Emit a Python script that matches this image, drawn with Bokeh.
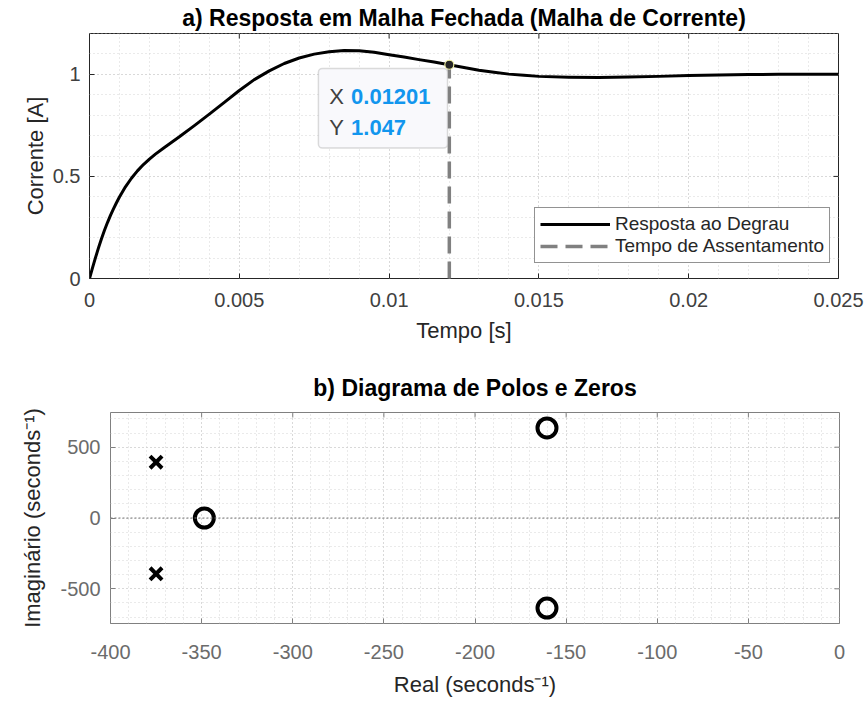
from bokeh.plotting import figure
from bokeh.models import (FixedTicker, Range1d, BoxAnnotation, Label,
                          Legend, LegendItem, Span)
from bokeh.embed import file_html
from bokeh.resources import INLINE

FONT = "Liberation Sans"

# ---------------- data: a) closed-loop step response ----------------
t_s = [0, 0.0001, 0.0002, 0.0003, 0.0004, 0.0005, 0.0006, 0.0007, 0.0008, 0.0009,
       0.001, 0.0012, 0.0014, 0.0016, 0.0018, 0.002, 0.0022, 0.0025,
       0.003, 0.0035, 0.004, 0.0045, 0.005, 0.0055, 0.006, 0.0065, 0.007,
       0.0075, 0.008, 0.0085, 0.009, 0.0095, 0.01, 0.0105, 0.011, 0.0115, 0.012,
       0.0125, 0.013, 0.0135, 0.014, 0.0145, 0.015, 0.016, 0.017, 0.018, 0.019,
       0.02, 0.021, 0.022, 0.023, 0.024, 0.025]
i_A = [0, 0.052, 0.102, 0.150, 0.195, 0.236, 0.274, 0.309, 0.341, 0.371,
       0.399, 0.449, 0.491, 0.527, 0.558, 0.585, 0.609, 0.642,
       0.694, 0.749, 0.805, 0.863, 0.921, 0.974, 1.017, 1.053, 1.080,
       1.099, 1.111, 1.117, 1.116, 1.108, 1.096, 1.085, 1.072, 1.06, 1.047,
       1.033, 1.02, 1.01, 1.001, 0.995, 0.99, 0.986, 0.985, 0.987, 0.99,
       0.994, 0.997, 0.999, 1.0, 1.0, 1.0]
settling_time = 0.01201
settling_value = 1.047

xticks_a = [0, 0.005, 0.01, 0.015, 0.02, 0.025]
xlabels_a = ["0", "0.005", "0.01", "0.015", "0.02", "0.025"]
yticks_a = [0, 0.5, 1]
ylabels_a = ["0", "0.5", "1"]

# ---------------- data: b) pole-zero map ----------------
poles_re = [-375, -375]
poles_im = [394, -394]
zeros_re = [-348.5, -160.5, -160.5]
zeros_im = [0, 636, -636]

xticks_b = [-400, -350, -300, -250, -200, -150, -100, -50, 0]
xlabels_b = ["-400", "-350", "-300", "-250", "-200", "-150", "-100", "-50", "0"]
yticks_b = [-500, 0, 500]
ylabels_b = ["-500", "0", "500"]


def style_axes(p, xt, xl, yt, yl, xminor, yminor, tick_color, frame_color,
               xr, yr, fw, fh):
    xtk = FixedTicker(ticks=xt, minor_ticks=xminor)
    ytk = FixedTicker(ticks=yt, minor_ticks=yminor)
    p.xaxis.ticker = xtk
    p.yaxis.ticker = ytk
    p.xaxis.major_label_overrides = {v: s for v, s in zip(xt, xl)}
    p.yaxis.major_label_overrides = {v: s for v, s in zip(yt, yl)}
    for ax in (p.xaxis[0], p.yaxis[0]):
        ax.major_label_text_font = FONT
        ax.major_label_text_font_size = "20px"
        ax.major_label_text_color = tick_color
        ax.axis_label_text_font = FONT
        ax.axis_label_text_font_size = "22px"
        ax.axis_label_text_font_style = "normal"
        ax.axis_label_text_color = "#262626"
        ax.axis_line_color = None
        ax.major_tick_in = 5
        ax.major_tick_out = 0
        ax.major_tick_line_color = frame_color
        ax.minor_tick_in = 0
        ax.minor_tick_out = 0
    # mirrored inward ticks on the top and right frame edges
    tx = 5 * (xr[1] - xr[0]) / fw
    ty = 5 * (yr[1] - yr[0]) / fh
    p.segment(x0=xt, y0=[yr[1]] * len(xt), x1=xt, y1=[yr[1] - ty] * len(xt),
              line_color=frame_color, line_width=1)
    p.segment(x0=[xr[1]] * len(yt), y0=yt, x1=[xr[1] - tx] * len(yt), y1=yt,
              line_color=frame_color, line_width=1)
    for g in (p.xgrid[0], p.ygrid[0]):
        g.grid_line_color = "#c8c8c8"
        g.grid_line_dash = "1 3"
        g.grid_line_width = 1
        g.minor_grid_line_color = "#d4d4d4"
        g.minor_grid_line_dash = "1 3"
        g.minor_grid_line_width = 1
    p.outline_line_color = frame_color
    p.outline_line_width = 1
    p.background_fill_color = "white"
    p.border_fill_color = "white"
    p.title.text_font = FONT
    p.title.text_font_size = "23px"
    p.title.text_font_style = "bold"
    p.title.text_color = "black"
    p.title.align = "center"


# ---------------- figure a ----------------
xr_a, yr_a = (0, 0.025), (0, 1.2)
p1 = figure(frame_width=749, frame_height=245,
            x_range=Range1d(*xr_a), y_range=Range1d(*yr_a),
            min_border_left=89, min_border_right=28, min_border_top=33,
            min_border_bottom=72, output_backend="svg", toolbar_location=None,
            title="a) Resposta em Malha Fechada (Malha de Corrente)",
            x_axis_label="Tempo [s]", y_axis_label="Corrente [A]")
style_axes(p1, xticks_a, xlabels_a, yticks_a, ylabels_a,
           [k * 0.001 for k in range(26)], [k * 0.1 for k in range(13)],
           "#404040", "#262626", xr_a, yr_a, 749, 245)
p1.title.standoff = 5
p1.xaxis[0].major_label_standoff = 14
p1.xaxis[0].axis_label_standoff = 8
p1.yaxis[0].major_label_standoff = 9
p1.yaxis[0].axis_label_standoff = 2

r_step = p1.line(t_s, i_A, line_color="black", line_width=3, line_join="round")

tip_box = BoxAnnotation(left=0.00764, right=0.01195, bottom=0.639, top=1.029,
                        fill_color="#f9f9fc", fill_alpha=1,
                        line_color="#8c8c8c", line_width=1.5, border_radius=4,
                        level="overlay")
p1.add_layout(tip_box)

r_ts = p1.line([settling_time, settling_time], [0, settling_value],
               line_color="#808080", line_width=3.5, line_dash="17 8")
r_ts.level = "overlay"
tip_pt = p1.scatter([settling_time], [settling_value], size=9,
                    fill_color="#262626", line_color="#f0f0a0", line_width=1.2)
tip_pt.level = "overlay"

for txt, x, y, col, style in (("X", 0.00800, 0.893, "#404040", "normal"),
                             (f"{settling_time:.5f}", 0.00873, 0.893, "#1296ee", "bold"),
                             ("Y", 0.00800, 0.741, "#404040", "normal"),
                             (f"{settling_value:.4g}", 0.00873, 0.741, "#1296ee", "bold")):
    p1.add_layout(Label(x=x, y=y, text=txt, text_font=FONT, text_font_size="22px",
                        text_color=col, text_font_style=style,
                        text_baseline="middle", text_align="left", level="overlay"))

legend = Legend(items=[LegendItem(label="Resposta ao Degrau", renderers=[r_step]),
                       LegendItem(label="Tempo de Assentamento", renderers=[r_ts])],
                location=(445, 15), label_text_font=FONT, label_text_font_size="19px",
                label_text_color="#262626", glyph_width=70, glyph_height=20,
                label_height=20, padding=5, spacing=0, label_standoff=5, margin=0,
                border_line_color="#262626", border_line_width=1,
                background_fill_color="white", background_fill_alpha=1)
p1.add_layout(legend)

# ---------------- figure b ----------------
xr_b, yr_b = (-400, 0), (-745, 745)
p2 = figure(frame_width=729, frame_height=211,
            x_range=Range1d(*xr_b), y_range=Range1d(*yr_b),
            min_border_left=110, min_border_right=27, min_border_top=62,
            min_border_bottom=79, output_backend="svg", toolbar_location=None,
            title="b) Diagrama de Polos e Zeros",
            x_axis_label="Real (seconds⁻¹)", y_axis_label="Imaginário (seconds⁻¹)")
style_axes(p2, xticks_b, xlabels_b, yticks_b, ylabels_b,
           [-400 + 10 * k for k in range(41)], [-700 + 100 * k for k in range(15)],
           "#6b6b6b", "#808080", xr_b, yr_b, 729, 211)
p2.title.standoff = 24
p2.xaxis[0].major_label_standoff = 21
p2.xaxis[0].axis_label_standoff = 10
p2.yaxis[0].major_label_standoff = 10
p2.yaxis[0].axis_label_standoff = 12

p2.add_layout(Span(location=0, dimension="width", line_color="#7a7a7a",
                   line_dash="2 2", line_width=1))
p2.scatter(poles_re, poles_im, marker="x", size=17, line_color="black", line_width=4)
p2.scatter(zeros_re, zeros_im, marker="circle", size=19, fill_color=None,
           line_color="black", line_width=4)

open("out.html", "w").write(file_html([p1, p2], INLINE))
